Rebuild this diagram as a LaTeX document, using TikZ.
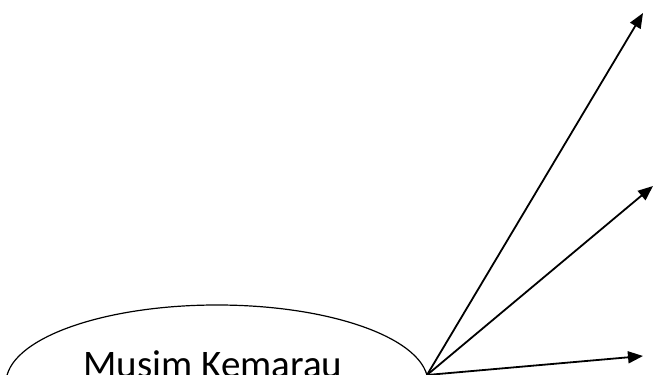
\documentclass[tikz,border=0pt]{standalone}
\usepackage{fontspec}
\setmainfont{Carlito}
\usetikzlibrary{arrows.meta, shapes.geometric}

\begin{document}
\begin{tikzpicture}[x=1pt, y=1pt,
    season/.style={draw, ellipse, line width=1.2pt, minimum width=422pt, minimum height=156pt, inner sep=0pt},
    effect/.style={-{Triangle[length=15pt,width=12pt]}, line width=1.8pt}]
    \useasboundingbox (0,0) rectangle (654,375);
    \clip (0,0) rectangle (654,375);

    % Ellipse with season name
    \node[season] (kemarau) at (217,-8) {};
    \node[anchor=base, font=\fontsize{39}{44}\selectfont] (kemarau_text) at (213,-3) {Musim Kemarau};

    % Arrows
    \coordinate (src) at (427,0);
    \coordinate (top) at (643,362);
    \coordinate (mid) at (653,189);
    \coordinate (low) at (643,19);
    \draw[effect] (src) -- (top);
    \draw[effect] (src) -- (mid);
    \draw[effect] (src) -- (low);
\end{tikzpicture}
\end{document}
